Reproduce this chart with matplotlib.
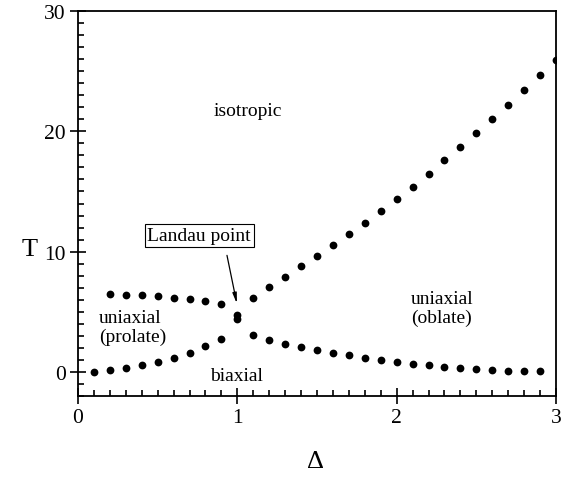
import matplotlib
matplotlib.use("Agg")
import matplotlib.pyplot as plt
from matplotlib.ticker import MultipleLocator

plt.rcParams['font.family'] = ['Liberation Serif', 'DejaVu Serif']
plt.rcParams['mathtext.fontset'] = 'stix'

# Upper-left branch: uniaxial (prolate) / isotropic boundary
x_ul = [0.2, 0.3, 0.4, 0.5, 0.6, 0.7, 0.8, 0.9]
y_ul = [6.48, 6.43, 6.37, 6.32, 6.15, 6.03, 5.90, 5.65]

# Lower-left branch: uniaxial (prolate) / biaxial boundary
x_ll = [0.1, 0.2, 0.3, 0.4, 0.5, 0.6, 0.7, 0.8, 0.9]
y_ll = [0.0, 0.13, 0.33, 0.55, 0.83, 1.16, 1.60, 2.13, 2.77]

# Landau point
x_lp = [1.0, 1.0]
y_lp = [4.43, 4.72]

# Upper-right branch: uniaxial (oblate) / isotropic boundary
x_ur = [1.1, 1.2, 1.3, 1.4, 1.5, 1.6, 1.7, 1.8, 1.9, 2.0,
        2.1, 2.2, 2.3, 2.4, 2.5, 2.6, 2.7, 2.8, 2.9, 3.0]
y_ur = [6.18, 7.06, 7.93, 8.80, 9.64, 10.52, 11.47, 12.41, 13.38, 14.41,
        15.40, 16.48, 17.59, 18.70, 19.84, 21.00, 22.22, 23.44, 24.69, 25.96]

# Lower-right branch: uniaxial (oblate) / biaxial boundary
x_lr = [1.1, 1.2, 1.3, 1.4, 1.5, 1.6, 1.7, 1.8, 1.9, 2.0,
        2.1, 2.2, 2.3, 2.4, 2.5, 2.6, 2.7, 2.8, 2.9]
y_lr = [3.04, 2.69, 2.35, 2.08, 1.85, 1.58, 1.38, 1.19, 1.02, 0.84,
        0.69, 0.55, 0.41, 0.33, 0.22, 0.17, 0.11, 0.08, 0.05]

x_ticks = [0, 1, 2, 3]
y_ticks = [0, 10, 20, 30]

fig = plt.figure(figsize=(5.74, 4.81), dpi=100)
ax = fig.add_axes([78/574, 1-397/481, (556-78)/574, (397-12)/481])

ms = 5.6
for xs, ys in [(x_ul, y_ul), (x_ll, y_ll), (x_lp, y_lp), (x_ur, y_ur), (x_lr, y_lr)]:
    ax.plot(xs, ys, 'o', color='black', markersize=ms, markeredgewidth=0, linestyle='none')

ax.set_xlim(0, 3)
ax.set_ylim(-2, 30)
ax.set_xticks(x_ticks)
ax.set_yticks(y_ticks)
ax.xaxis.set_minor_locator(MultipleLocator(0.1))
ax.yaxis.set_minor_locator(MultipleLocator(1))
ax.tick_params(which='major', direction='inout', length=12, width=1.2, labelsize=15.5, pad=3)
ax.tick_params(which='minor', direction='in', length=4, width=1.2)
ax.tick_params(top=False, right=False, which='both')
for s in ax.spines.values():
    s.set_linewidth(1.3)

ax.set_xlabel('Δ', fontsize=19)
ax.set_ylabel('T', fontsize=19, rotation=0)
ax.xaxis.set_label_coords((316 - 78) / 478, -(462 - 397) / 385)
ax.yaxis.set_label_coords((30 - 78) / 478, (397 - 250) / 385)
ax.xaxis.label.set_va('center')
ax.yaxis.label.set_va('center')
ax.yaxis.label.set_ha('center')

ax.text(1.068, 21.75, 'isotropic', fontsize=14, ha='center', va='center')
ax.text(0.13, 3.74, 'uniaxial\n(prolate)', fontsize=14, ha='left', va='center', linespacing=1.15)
ax.text(2.088, 5.33, 'uniaxial\n(oblate)', fontsize=14, ha='left', va='center', linespacing=1.15)
ax.text(0.993, -0.28, 'biaxial', fontsize=14, ha='center', va='center')
ax.text(0.761, 11.36, 'Landau point', fontsize=14, ha='center', va='center',
        bbox=dict(boxstyle='square,pad=0.15', facecolor='white', edgecolor='black', linewidth=0.8))
ax.annotate('', xy=(0.997, 5.68), xytext=(0.935, 9.69),
            arrowprops=dict(arrowstyle='-|>,head_length=0.6,head_width=0.12', color='black', lw=0.9,
                            shrinkA=0, shrinkB=0))

fig.savefig('out.png', dpi=100)
